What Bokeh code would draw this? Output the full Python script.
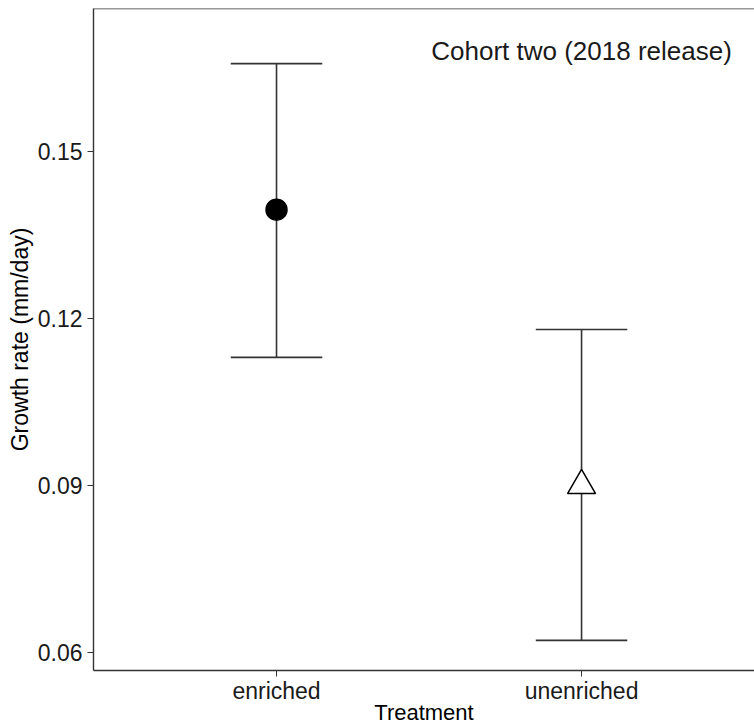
import numpy as np
from bokeh.plotting import figure
from bokeh.models import Range1d, FixedTicker, Label, ColumnDataSource, Span
from bokeh.embed import file_html
from bokeh.resources import INLINE

# ---- data ----
treatments = ["enriched", "unenriched"]
x_pos = [1, 2]
mean_rate = [0.1395, 0.0900]
lower_ci = [0.1130, 0.0622]
upper_ci = [0.1657, 0.1180]
y_ticks = [0.06, 0.09, 0.12, 0.15]
y_tick_labels = ["0.06", "0.09", "0.12", "0.15"]
markers = ["circle", "triangle"]
fills = ["black", "white"]
marker_sizes = [21, 28]

FONT = "Liberation Sans"
LINE = "#333333"

p = figure(width=754, height=727,
           output_backend="svg", toolbar_location=None,
           x_range=Range1d(0.4, 2.567), y_range=Range1d(0.0568, 0.1756),
           min_border_left=93, min_border_top=8, min_border_right=0,
           min_border_bottom=50, background_fill_color="white",
           border_fill_color="white")
p.outline_line_color = None
p.grid.visible = False

cap_half = 0.15
xs = np.array(x_pos, dtype=float)
src = ColumnDataSource(dict(
    x=xs, mean=mean_rate, lo=lower_ci, hi=upper_ci,
    xl=xs - cap_half, xr=xs + cap_half,
    marker=markers, fill=fills, size=marker_sizes,
))

p.segment(x0="x", y0="lo", x1="x", y1="hi", source=src, line_color=LINE, line_width=1.6)
p.segment(x0="xl", y0="hi", x1="xr", y1="hi", source=src, line_color=LINE, line_width=1.6)
p.segment(x0="xl", y0="lo", x1="xr", y1="lo", source=src, line_color=LINE, line_width=1.6)
p.scatter(x="x", y="mean", marker="marker", size="size", fill_color="fill",
          line_color="black", line_width=1.5, source=src)

# top border line
p.add_layout(Span(location=p.y_range.end, dimension="width",
                  line_color=LINE, line_width=1.3))

# axes
p.xaxis.ticker = FixedTicker(ticks=x_pos)
p.xaxis.major_label_overrides = {x: t for x, t in zip(x_pos, treatments)}
p.yaxis.ticker = FixedTicker(ticks=y_ticks)
p.yaxis.major_label_overrides = {v: t for v, t in zip(y_ticks, y_tick_labels)}
for ax in (p.xaxis, p.yaxis):
    ax.minor_tick_line_color = None
    ax.major_tick_in = 0
    ax.major_tick_out = 6
    ax.major_tick_line_color = LINE
    ax.axis_line_color = LINE
    ax.axis_line_width = 1.4
    ax.major_label_text_font = FONT
    ax.major_label_text_font_size = "23px"
    ax.major_label_text_color = "#1a1a1a"
    ax.axis_label_text_font = FONT
    ax.axis_label_text_font_size = "23px"
    ax.axis_label_text_font_style = "normal"
    ax.axis_label_text_color = "black"
p.xaxis.axis_label = "Treatment"
p.xaxis.axis_label_text_font_size = "22px"
p.yaxis.axis_label = "Growth rate (mm/day)"
p.xaxis.major_label_standoff = 1
p.yaxis.major_label_standoff = 5
p.xaxis.axis_label_standoff = -7
p.yaxis.axis_label_standoff = 2

p.add_layout(Label(x=2.0, y=0.16795, text="Cohort two (2018 release)",
                   text_font=FONT, text_font_size="26px", text_color="#1a1a1a",
                   text_align="center", text_baseline="alphabetic"))

open("out.html", "w").write(file_html(p, INLINE))
